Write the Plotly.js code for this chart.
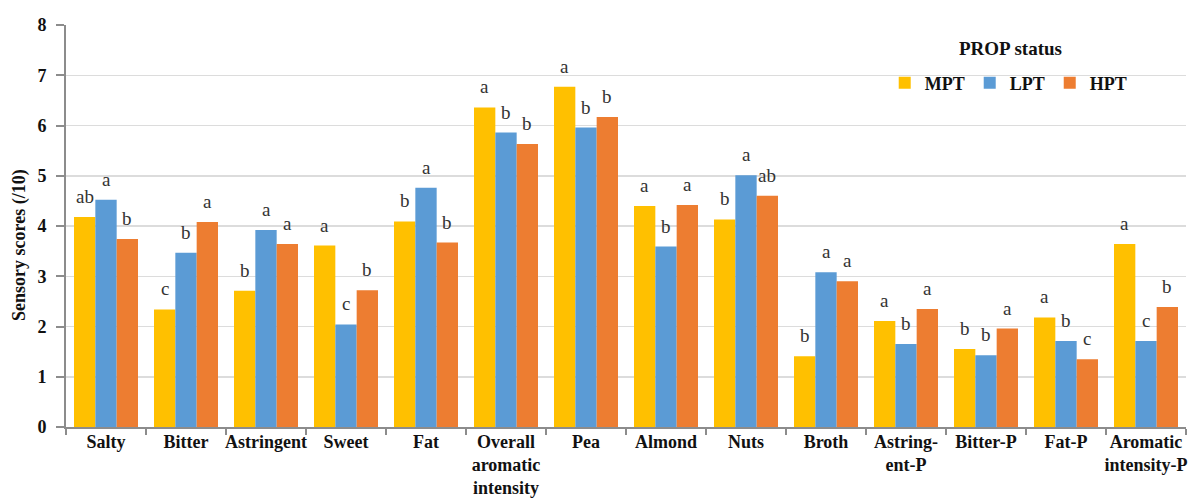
<!DOCTYPE html>
<html><head><meta charset="utf-8">
<script src="https://cdn.plot.ly/plotly-3.0.1.min.js"></script>
<style>html,body{margin:0;padding:0;background:#fff;}#chart{width:1190px;height:499px;}</style>
</head><body><div id="chart"></div>
<script>
var categories = ["Salty","Bitter","Astringent","Sweet","Fat","Overall<br>aromatic<br>intensity","Pea","Almond","Nuts","Broth","Astring-<br>ent-P","Bitter-P","Fat-P","Aromatic<br>intensity-P"];
var mpt = [4.18,2.34,2.71,3.61,4.09,6.36,6.77,4.40,4.13,1.41,2.11,1.55,2.18,3.64];
var lpt = [4.52,3.47,3.92,2.04,4.76,5.86,5.96,3.59,5.01,3.08,1.65,1.43,1.71,1.71];
var hpt = [3.74,4.08,3.64,2.72,3.67,5.63,6.17,4.42,4.60,2.90,2.35,1.96,1.35,2.39];
var mptLetters = ["ab","c","b","a","b","a","a","a","b","b","a","b","a","a"];
var lptLetters = ["a","b","a","c","a","b","b","b","a","a","b","b","b","c"];
var hptLetters = ["b","a","a","b","b","b","b","a","ab","a","a","a","c","b"];
var seriesNames = ["MPT","LPT","HPT"];
var legendTitle = "PROP status";
var yTitle = "Sensory scores (/10)";
var colors = ["#FFC000","#5B9BD5","#ED7D31"];

var serif = "Liberation Serif";
var vals = [mpt,lpt,hpt];
var lets = [mptLetters,lptLetters,hptLetters];
var traces = vals.map(function(v,k){
  return {type:"bar", name:seriesNames[k], x:categories, y:v,
    marker:{color:colors[k]}, hoverinfo:"skip"};
});
var bargap = 0.2, w = (1-bargap)/3;
var annotations = [];
for (var k=0;k<3;k++){
  for (var i=0;i<categories.length;i++){
    annotations.push({x:i+(k-1)*w, y:vals[k][i], xref:"x", yref:"y", text:lets[k][i],
      showarrow:false, yanchor:"bottom", yshift:8,
      font:{family:serif, size:19, color:"#333"}});
  }
}
annotations.push({x:(1010-66)/1120, y:(427-48)/402, xref:"paper", yref:"paper", xanchor:"center", yanchor:"middle",
  text:legendTitle, showarrow:false, font:{family:serif, size:19, color:"#111", weight:"bold"}});
annotations.push({x:(20-66)/1120, y:(427-245)/402, xref:"paper", yref:"paper", xanchor:"center", yanchor:"middle",
  text:yTitle, textangle:-90, showarrow:false, font:{family:serif, size:18, color:"#111", weight:"bold"}});
var layout = {
  width:1190, height:499,
  margin:{l:66, r:4, t:25, b:72},
  paper_bgcolor:"#fff", plot_bgcolor:"#fff",
  barmode:"group", bargap:bargap, bargroupgap:0,
  font:{family:serif, color:"#000"},
  xaxis:{type:"category", showline:true, linecolor:"#8c8c8c", linewidth:2,
    ticks:"outside", tickson:"boundaries", ticklen:6, tickcolor:"#8c8c8c", tickwidth:2, tickangle:0,
    ticklabelstandoff:-3,
    tickfont:{family:serif, size:18, color:"#111", weight:"bold"}, showgrid:false, zeroline:false,
    range:[-0.5,13.5]},
  yaxis:{range:[0,8], dtick:1, showline:true, linecolor:"#8c8c8c", linewidth:2,
    ticks:"outside", ticklen:8, tickcolor:"#8c8c8c", tickwidth:2, ticklabelstandoff:6,
    gridcolor:"#dcdcdc", gridwidth:1.5, zeroline:false,
    tickfont:{family:serif, size:18, color:"#111", weight:"bold"}},
  legend:{orientation:"h", x:0.731, y:(427-83)/402, xanchor:"left", yanchor:"middle", bgcolor:"rgba(0,0,0,0)",
    font:{family:serif, size:18, color:"#111", weight:"bold"},
    itemwidth:30, traceorder:"normal"},
  annotations:annotations
};
Plotly.newPlot("chart", traces, layout, {displayModeBar:false, staticPlot:true});
</script></body></html>
